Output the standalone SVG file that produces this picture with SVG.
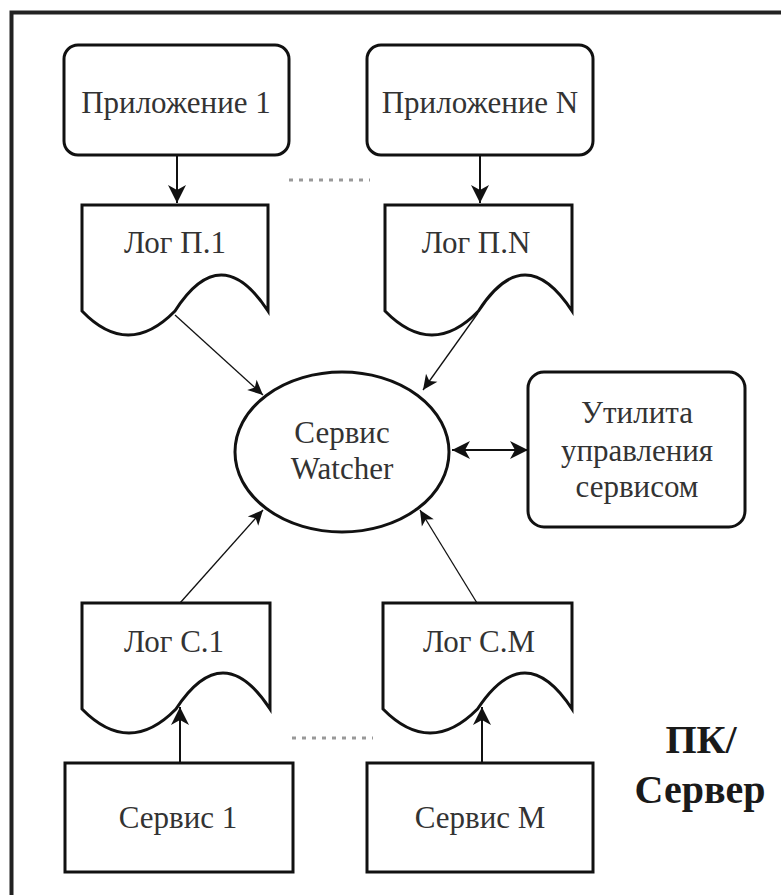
<svg xmlns="http://www.w3.org/2000/svg" width="781" height="895" viewBox="0 0 781 895">
<style>
.box{fill:#fff;stroke:#111;stroke-width:3}
.t{font-family:'Liberation Serif','Times New Roman',serif;font-size:31px;fill:#333;text-anchor:middle}
.b{font-family:'Liberation Serif','Times New Roman',serif;font-size:40px;font-weight:bold;fill:#1a1a1a;text-anchor:middle}
.thick{stroke:#111;stroke-width:2;fill:none}
.thin{stroke:#111;stroke-width:1.3;fill:none}
.dots{stroke:#999;stroke-width:3;stroke-dasharray:4 6;fill:none}
</style>
<defs>
<marker id="big" markerUnits="userSpaceOnUse" orient="auto-start-reverse" refX="0" refY="0" markerWidth="20" markerHeight="20" overflow="visible">
<path d="M0,0 L-18,-9 L-13,0 L-18,9 Z" fill="#111"/>
</marker>
<marker id="small" markerUnits="userSpaceOnUse" orient="auto" refX="0" refY="0" markerWidth="20" markerHeight="20" overflow="visible">
<path d="M0,0 L-15,-7 L-11,0 L-15,7 Z" fill="#111"/>
</marker>
</defs>
<rect x="11.5" y="12.5" width="800" height="900" fill="#fff" stroke="#222" stroke-width="4"/>

<g id="connectors">
<line class="thick" x1="177" y1="155" x2="177" y2="203" marker-end="url(#big)"/>
<line class="thick" x1="480" y1="155" x2="480" y2="203" marker-end="url(#big)"/>
<line class="thin" x1="175" y1="315" x2="263" y2="395" marker-end="url(#small)"/>
<line class="thin" x1="478" y1="313" x2="423" y2="390" marker-end="url(#small)"/>
<line class="thin" x1="180" y1="603" x2="263" y2="510" marker-end="url(#small)"/>
<line class="thin" x1="477" y1="603" x2="420" y2="510" marker-end="url(#small)"/>
<line class="thick" x1="452" y1="450" x2="528" y2="450" marker-start="url(#big)" marker-end="url(#big)"/>
<line class="thick" x1="180" y1="763" x2="180" y2="707" marker-end="url(#big)"/>
<line class="thick" x1="482" y1="763" x2="482" y2="707" marker-end="url(#big)"/>
<line class="dots" x1="289" y1="180" x2="370" y2="180"/>
<line class="dots" x1="292" y1="738" x2="373" y2="738"/>
</g>

<g id="app1">
<rect class="box" x="64" y="45" width="225" height="110" rx="14"/>
<text class="t" x="176" y="113">Приложение 1</text>
</g>
<g id="appN">
<rect class="box" x="367" y="45" width="226" height="110" rx="14"/>
<text class="t" x="480" y="113">Приложение N</text>
</g>
<g id="logP1">
<path class="box" d="M82,205 H268 V311 Q221,239 175,311 Q128,359 82,311 Z"/>
<text class="t" x="175" y="253">Лог П.1</text>
</g>
<g id="logPN">
<path class="box" d="M385,205 H572 V311 Q525,239 478.5,311 Q432,359 385,311 Z"/>
<text class="t" x="476" y="253">Лог П.N</text>
</g>
<g id="watcher">
<ellipse class="box" cx="342" cy="452" rx="107" ry="80"/>
<text class="t" x="342" y="443">Сервис</text>
<text class="t" x="342" y="479">Watcher</text>
</g>
<g id="utility">
<rect class="box" x="528" y="372" width="217" height="155" rx="16"/>
<text class="t" x="637" y="423">Утилита</text>
<text class="t" x="637" y="461">управления</text>
<text class="t" x="637" y="497">сервисом</text>
</g>
<g id="logS1">
<path class="box" d="M82,603 H270 V709 Q223,637 176,709 Q129,757 82,709 Z"/>
<text class="t" x="174" y="652">Лог С.1</text>
</g>
<g id="logSM">
<path class="box" d="M383,603 H572 V709 Q525,637 477.5,709 Q430,757 383,709 Z"/>
<text class="t" x="479" y="652">Лог С.М</text>
</g>
<g id="service1">
<rect class="box" x="65" y="763" width="228" height="109"/>
<text class="t" x="178" y="828">Сервис 1</text>
</g>
<g id="serviceM">
<rect class="box" x="367" y="763" width="226" height="109"/>
<text class="t" x="480" y="828">Сервис М</text>
</g>
<g id="label">
<text class="b" x="701" y="753">ПК/</text>
<text class="b" x="700" y="803">Сервер</text>
</g>
</svg>
